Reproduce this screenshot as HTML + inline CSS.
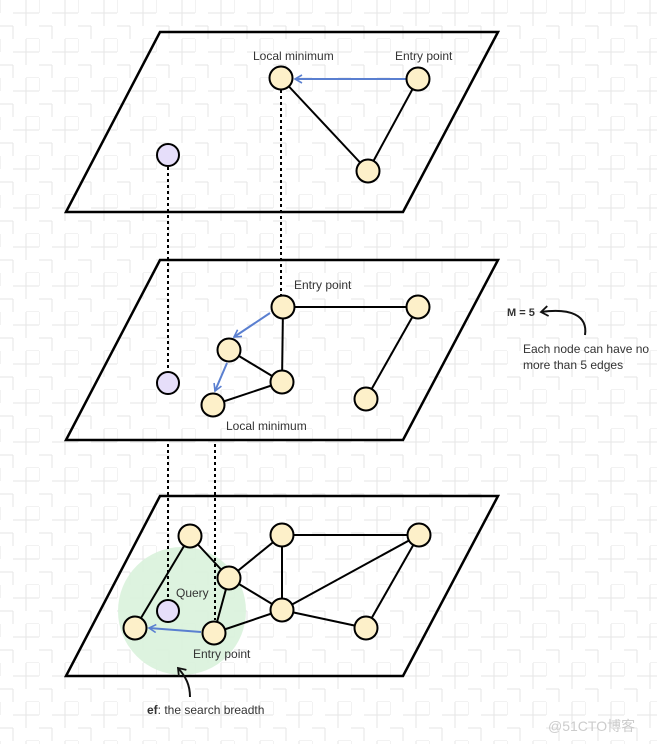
<!DOCTYPE html>
<html><head><meta charset="utf-8"><style>
html,body{margin:0;padding:0;background:#fff;}
svg{display:block;}
text{font-family:"Liberation Sans",sans-serif;fill:#333;}
</style></head><body>
<svg width="657" height="744" viewBox="0 0 657 744" xmlns="http://www.w3.org/2000/svg">
<defs>
<pattern id="bg" width="39" height="39" patternUnits="userSpaceOnUse">
<path d="M0 0V13M13 13H26M26 0V26M0 26H13M13 26V39M26 39H39M39 13H26" stroke="#e6e6e6" stroke-width="1" fill="none"/>
</pattern>
<marker id="ab" markerWidth="10" markerHeight="10" refX="8" refY="5" orient="auto" markerUnits="userSpaceOnUse">
<path d="M1 1L8 5L1 9" fill="none" stroke="#5a7fd0" stroke-width="1.6"/>
</marker>
<marker id="ak" markerWidth="12" markerHeight="12" refX="9" refY="6" orient="auto" markerUnits="userSpaceOnUse">
<path d="M2 1L9 6L2 11" fill="none" stroke="#111" stroke-width="1.8"/>
</marker>
</defs>
<rect width="657" height="744" fill="url(#bg)"/>

<g fill="none" stroke="#000" stroke-width="2.5">
<path d="M160 32H498L403 212H66Z"/>
<path d="M160 260H498L403 440H66Z"/>
<path d="M160 496H498L403 676H66Z"/>
</g>

<circle cx="182" cy="611" r="64" fill="#d9f2dc" opacity="0.9"/>

<g stroke="#000" stroke-width="2" stroke-dasharray="3,3">
<line x1="281" y1="90" x2="281" y2="296"/>
<line x1="168" y1="167" x2="168" y2="371"/>
<line x1="168" y1="444" x2="168" y2="598"/>
<line x1="215" y1="444" x2="215" y2="620"/>
</g>

<g stroke="#000" stroke-width="2">
<line x1="281" y1="78" x2="368" y2="171"/>
<line x1="368" y1="171" x2="418" y2="79"/>
<line x1="283" y1="307" x2="418" y2="307"/>
<line x1="283" y1="307" x2="282" y2="382"/>
<line x1="229" y1="350" x2="282" y2="382"/>
<line x1="282" y1="382" x2="213" y2="405"/>
<line x1="418" y1="307" x2="366" y2="399"/>
<line x1="190" y1="536" x2="135" y2="628"/>
<line x1="190" y1="536" x2="229" y2="578"/>
<line x1="229" y1="578" x2="282" y2="535"/>
<line x1="282" y1="535" x2="282" y2="610"/>
<line x1="229" y1="578" x2="282" y2="610"/>
<line x1="229" y1="578" x2="214" y2="633"/>
<line x1="214" y1="633" x2="282" y2="610"/>
<line x1="282" y1="535" x2="419" y2="535"/>
<line x1="282" y1="610" x2="419" y2="535"/>
<line x1="282" y1="610" x2="366" y2="628"/>
<line x1="366" y1="628" x2="419" y2="535"/>
</g>

<g stroke="#5a7fd0" stroke-width="2" marker-end="url(#ab)">
<line x1="406" y1="79" x2="295" y2="79"/>
<line x1="270" y1="313" x2="234" y2="337"/>
<line x1="227" y1="363" x2="215" y2="391"/>
<line x1="201" y1="632" x2="149" y2="628"/>
</g>

<g fill="#fdf0c9" stroke="#000" stroke-width="2">
<circle cx="281" cy="78" r="11.5"/><circle cx="418" cy="79" r="11.5"/><circle cx="368" cy="171" r="11.5"/>
<circle cx="283" cy="307" r="11.5"/><circle cx="418" cy="307" r="11.5"/><circle cx="229" cy="350" r="11.5"/>
<circle cx="282" cy="382" r="11.5"/><circle cx="213" cy="405" r="11.5"/><circle cx="366" cy="399" r="11.5"/>
<circle cx="190" cy="536" r="11.5"/><circle cx="282" cy="535" r="11.5"/><circle cx="419" cy="535" r="11.5"/>
<circle cx="229" cy="578" r="11.5"/><circle cx="282" cy="610" r="11.5"/><circle cx="214" cy="633" r="11.5"/>
<circle cx="366" cy="628" r="11.5"/><circle cx="135" cy="628" r="11.5"/>
</g>
<g fill="#e6defa" stroke="#000" stroke-width="2">
<circle cx="168" cy="155" r="11"/><circle cx="168" cy="383" r="11"/><circle cx="168" cy="611" r="11"/>
</g>

<g font-size="12">
<text x="253" y="60">Local minimum</text>
<text x="395" y="60">Entry point</text>
<text x="294" y="289">Entry point</text>
<text x="226" y="430">Local minimum</text>
<text x="176" y="597">Query</text>
<text x="193" y="658">Entry point</text>
<text x="147" y="714"><tspan font-weight="bold">ef</tspan>: the search breadth</text>
<text x="507" y="316" font-weight="bold" font-size="11">M = 5</text>
<text x="523" y="353">Each node can have no</text>
<text x="523" y="369">more than 5 edges</text>
</g>
<path d="M585 335C588 315 570 308 541 312" fill="none" stroke="#111" stroke-width="2" marker-end="url(#ak)"/>
<path d="M190 697C190 685 186 677 178 668" fill="none" stroke="#111" stroke-width="2" marker-end="url(#ak)"/>
<text x="548" y="731" font-size="14" style="fill:#ccc">@51CTO博客</text>
</svg>
</body></html>
